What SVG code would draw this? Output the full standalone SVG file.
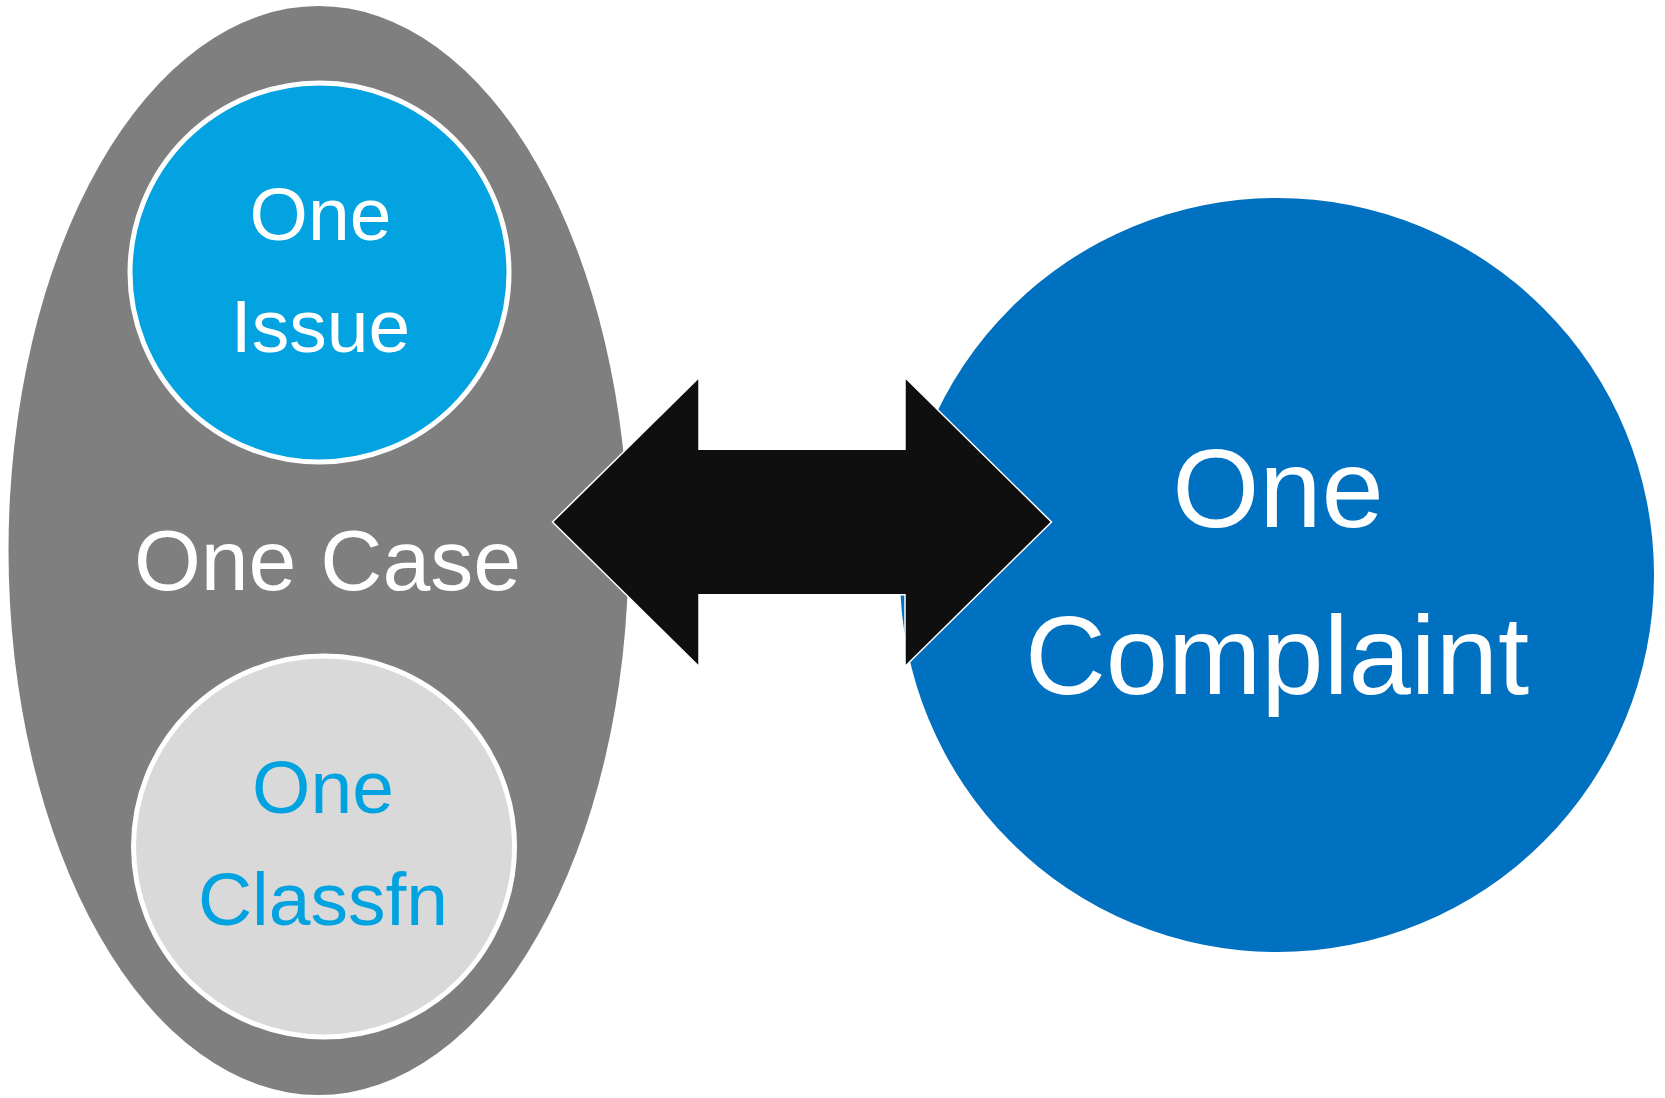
<svg xmlns="http://www.w3.org/2000/svg" width="1665" height="1098" viewBox="0 0 1665 1098">
  <style>
    .t { font-family: "Liberation Sans", Arial, sans-serif; text-anchor: middle; }
    .w { fill: #ffffff; }
    .b { fill: #00a3e0; }
    .ring { stroke: #ffffff; stroke-width: 5; }
  </style>
  <rect x="0" y="0" width="1665" height="1098" fill="#ffffff"/>
  <g id="case">
    <ellipse cx="318.5" cy="550.5" rx="310" ry="544.5" fill="#7f7f7f"/>
    <text class="t w" x="327.5" y="590" font-size="86">One Case</text>
  </g>
  <g id="issue">
    <circle class="ring" cx="319.5" cy="272.5" r="189.5" fill="#02a3e0"/>
    <text class="t w" x="320.5" y="240" font-size="75">One</text>
    <text class="t w" x="320.5" y="351.7" font-size="75">Issue</text>
  </g>
  <g id="classfn">
    <circle class="ring" cx="324" cy="846.5" r="190.5" fill="#d9d9d9"/>
    <text class="t b" x="323" y="813.3" font-size="75">One</text>
    <text class="t b" x="323" y="925" font-size="75">Classfn</text>
  </g>
  <g id="complaint">
    <circle cx="1277" cy="575" r="377" fill="#0070c0"/>
    <text class="t w" x="1278" y="526.7" font-size="112">One</text>
    <text class="t w" x="1277" y="694" font-size="112">Complaint</text>
  </g>
  <g id="connectors">
    <polygon points="552.5,522 699,377.5 699,449.3 905,449.3 905,377.5 1051.5,522 905,666.5 905,594.7 699,594.7 699,666.5" fill="#0f0f0f" stroke="#ffffff" stroke-width="1.5" stroke-linejoin="miter"/>
  </g>
</svg>
